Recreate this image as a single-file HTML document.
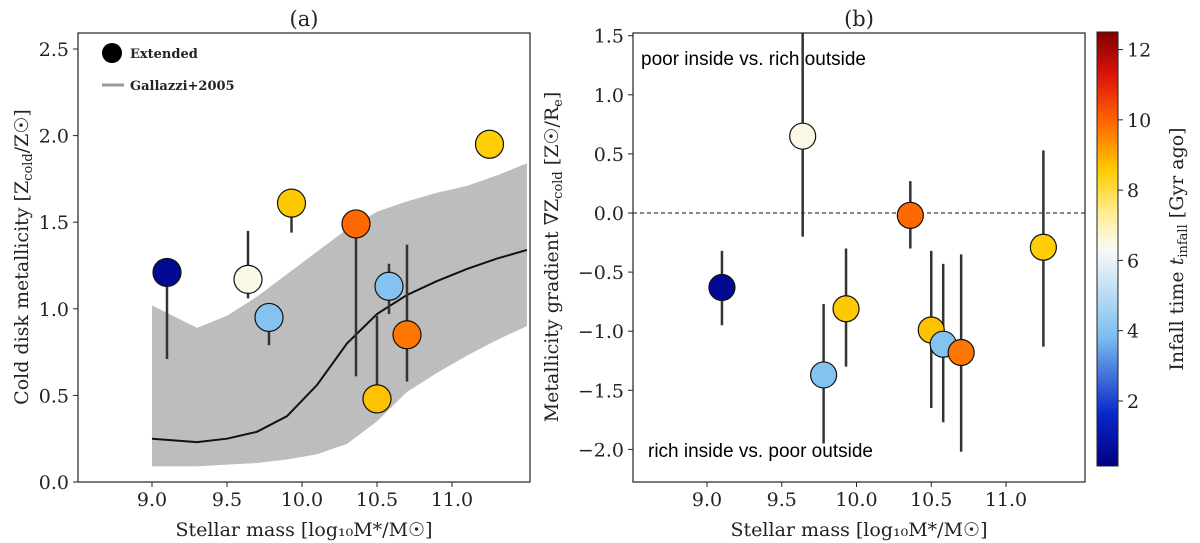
<!DOCTYPE html>
<html><head><meta charset="utf-8"><style>
body{margin:0;background:#fff}
svg{display:block;font-family:"DejaVu Serif","Liberation Serif",serif}
</style></head><body>
<svg id="c" width="1200" height="543" viewBox="0 0 1200 543"></svg>
<script>
const masses=[9.10,9.64,9.78,9.93,10.36,10.50,10.58,10.70,11.25];
const zCold=[1.21,1.17,0.95,1.61,1.49,0.48,1.13,0.85,1.95];
const zLo=[0.71,1.06,0.79,1.44,0.61,0.48,0.97,0.58,1.95];
const zHi=[1.21,1.45,0.95,1.61,1.49,0.96,1.26,1.37,1.95];
const grad=[-0.63,0.65,-1.37,-0.81,-0.02,-0.99,-1.11,-1.18,-0.29];
const gLo=[-0.95,-0.20,-1.95,-1.30,-0.30,-1.65,-1.77,-2.02,-1.13];
const gHi=[-0.32,1.60,-0.77,-0.30,0.27,-0.32,-0.43,-0.35,0.53];
const infall=[0.5,6.5,4.0,8.6,9.9,8.7,4.0,9.7,8.5];
const galX=[9.0,9.3,9.5,9.7,9.9,10.1,10.3,10.5,10.7,10.9,11.1,11.3,11.5];
const galMed=[0.25,0.23,0.25,0.29,0.38,0.56,0.80,0.97,1.08,1.16,1.23,1.29,1.34];
const galUp=[1.02,0.89,0.96,1.07,1.20,1.33,1.46,1.56,1.62,1.67,1.71,1.77,1.84];
const galLo=[0.09,0.09,0.10,0.11,0.13,0.16,0.22,0.35,0.52,0.63,0.73,0.82,0.90];
const xTicks=[9.0,9.5,10.0,10.5,11.0];
const yTicksA=[0.0,0.5,1.0,1.5,2.0,2.5];
const yTicksB=[-2.0,-1.5,-1.0,-0.5,0.0,0.5,1.0,1.5];
const cbTicks=[2,4,6,8,10,12];

const NS="http://www.w3.org/2000/svg",svg=document.getElementById('c');
function mk(t,a,p){const e=document.createElementNS(NS,t);for(const k in a)e.setAttribute(k,a[k]);(p||svg).appendChild(e);return e;}
const TOP=33,BOT=482;
const xA=v=>152+(v-9)*150, yA=v=>482-v*173.2;
const xB=v=>707+(v-9)*149.5, yB=v=>213-v*118.2;
const cbY=v=>466-(v-0.15)*(434/12.35);
const stops=[[0,[0,0,130]],[0.12,[10,40,200]],[0.3,[125,192,240]],[0.5,[250,250,248]],[0.58,[255,238,150]],[0.68,[255,205,0]],[0.8,[255,95,0]],[0.9,[220,20,10]],[1,[130,0,0]]];
function cmap(t){const f=Math.max(0,Math.min(1,(t-0.15)/12.35));for(let i=1;i<stops.length;i++){if(f<=stops[i][0]){const a=stops[i-1],b=stops[i],u=(f-a[0])/(b[0]-a[0]);return 'rgb('+a[1].map((c,j)=>Math.round(c+(b[1][j]-c)*u)).join(',')+')';}}return 'rgb(130,0,0)';}
function txt(x,y,s,a,name){const e=mk('text',Object.assign({x,y,'font-size':19,fill:'#222'},a||{}));e.textContent=s;return e;}

let gA=mk('g',{});
mk('defs',{}).innerHTML='<clipPath id="ca"><rect x="78" y="33" width="452" height="449"/></clipPath><clipPath id="cb"><rect x="633" y="33" width="452" height="449"/></clipPath>';
let band='M'+galX.map((x,i)=>xA(x)+','+yA(galUp[i])).join('L')+'L'+galX.slice().reverse().map((x,i)=>xA(x)+','+yA(galLo[galX.length-1-i])).join('L')+'Z';
let b=mk('path',{d:band,fill:'#bdbdbd','clip-path':'url(#ca)'},gA);
let l=mk('path',{d:'M'+galX.map((x,i)=>xA(x)+','+yA(galMed[i])).join('L'),fill:'none',stroke:'#111','stroke-width':2,'clip-path':'url(#ca)'},gA);
masses.forEach((m,i)=>{let e=mk('line',{x1:xA(m),x2:xA(m),y1:yA(zLo[i]),y2:yA(zHi[i]),stroke:'#333','stroke-width':2.5},gA);});
masses.forEach((m,i)=>{let c=mk('circle',{cx:xA(m),cy:yA(zCold[i]),r:14,fill:cmap(infall[i]),stroke:'#111','stroke-width':1.2},gA);});
mk('rect',{x:78,y:TOP,width:452,height:BOT-TOP,fill:'none',stroke:'#222','stroke-width':1.2},gA);
xTicks.forEach(v=>{mk('line',{x1:xA(v),x2:xA(v),y1:482,y2:487,stroke:'#222'},gA);txt(xA(v),506,v.toFixed(1),{'text-anchor':'middle'},'x-tick-a');});
yTicksA.forEach(v=>{mk('line',{x1:73,x2:78,y1:yA(v),y2:yA(v),stroke:'#222'},gA);txt(69,yA(v)+7,v.toFixed(1),{'text-anchor':'end'},'y-tick-a');});
txt(304,536,'Stellar mass [log₁₀M*/M☉]',{'text-anchor':'middle'},'x-axis-title-a');
txt(28,257,'',{'text-anchor':'middle',transform:'rotate(-90 28 257)'},'y-axis-title-a').innerHTML='Cold disk metallicity [Z<tspan font-size="13" dy="4">cold</tspan><tspan dy="-4">/Z☉]</tspan>';
txt(304,26,'(a)',{'text-anchor':'middle','font-size':21},'panel-a-title');
let lc=mk('circle',{cx:112,cy:53,r:10,fill:'#000'},gA);
txt(130,58,'Extended',{'font-size':13,'font-weight':'bold'},'legend-label-extended');
mk('line',{x1:102,x2:124,y1:85,y2:85,stroke:'#999','stroke-width':3},gA);
txt(130,90,'Gallazzi+2005',{'font-size':13,'font-weight':'bold'},'legend-label-gallazzi');

let gB=mk('g',{});
let z=mk('line',{x1:633,x2:1085,y1:yB(0),y2:yB(0),stroke:'#111','stroke-dasharray':'4,3'},gB);
masses.forEach((m,i)=>{let e=mk('line',{x1:xB(m),x2:xB(m),y1:yB(gLo[i]),y2:yB(gHi[i]),stroke:'#333','stroke-width':2.5,'clip-path':'url(#cb)'},gB);});
masses.forEach((m,i)=>{let c=mk('circle',{cx:xB(m),cy:yB(grad[i]),r:13,fill:cmap(infall[i]),stroke:'#111','stroke-width':1.2},gB);});
mk('rect',{x:633,y:TOP,width:452,height:BOT-TOP,fill:'none',stroke:'#222','stroke-width':1.2},gB);
xTicks.forEach(v=>{mk('line',{x1:xB(v),x2:xB(v),y1:482,y2:487,stroke:'#222'},gB);txt(xB(v),506,v.toFixed(1),{'text-anchor':'middle'},'x-tick-b');});
yTicksB.forEach(v=>{mk('line',{x1:628,x2:633,y1:yB(v),y2:yB(v),stroke:'#222'},gB);txt(624,yB(v)+7,v.toFixed(1).replace('-','−'),{'text-anchor':'end'},'y-tick-b');});
txt(859,536,'Stellar mass [log₁₀M*/M☉]',{'text-anchor':'middle'},'x-axis-title-b');
txt(558,257,'',{'text-anchor':'middle',transform:'rotate(-90 558 257)'},'y-axis-title-b').innerHTML='Metallicity gradient ∇Z<tspan font-size="13" dy="4">cold</tspan><tspan dy="-4"> [Z☉/R</tspan><tspan font-size="13" dy="4">e</tspan><tspan dy="-4">]</tspan>';
txt(859,26,'(b)',{'text-anchor':'middle','font-size':21},'panel-b-title');
txt(641,65,'poor inside vs. rich outside',{'font-family':'Liberation Sans, sans-serif','font-size':19,fill:'#000'},'annotation-top');
txt(648,457,'rich inside vs. poor outside',{'font-family':'Liberation Sans, sans-serif','font-size':19,fill:'#000'},'annotation-bottom');

let gC=mk('g',{});
let defs=mk('defs',{});let lg=mk('linearGradient',{id:'cg',x1:0,y1:1,x2:0,y2:0},defs);
stops.forEach(s=>mk('stop',{offset:s[0],'stop-color':'rgb('+s[1].join(',')+')'},lg));
mk('rect',{x:1097,y:32,width:21,height:434,fill:'url(#cg)',stroke:'#222'},gC);
cbTicks.forEach(v=>{mk('line',{x1:1118,x2:1123,y1:cbY(v),y2:cbY(v),stroke:'#222'},gC);txt(1127,cbY(v)+7,String(v),{},'colorbar-tick');});
txt(1183,249,'',{'text-anchor':'middle',transform:'rotate(-90 1183 249)'},'colorbar-title').innerHTML='Infall time <tspan font-style="italic">t</tspan><tspan font-size="13" dy="4">infall</tspan><tspan dy="-4"> [Gyr ago]</tspan>';
</script>
</body></html>
